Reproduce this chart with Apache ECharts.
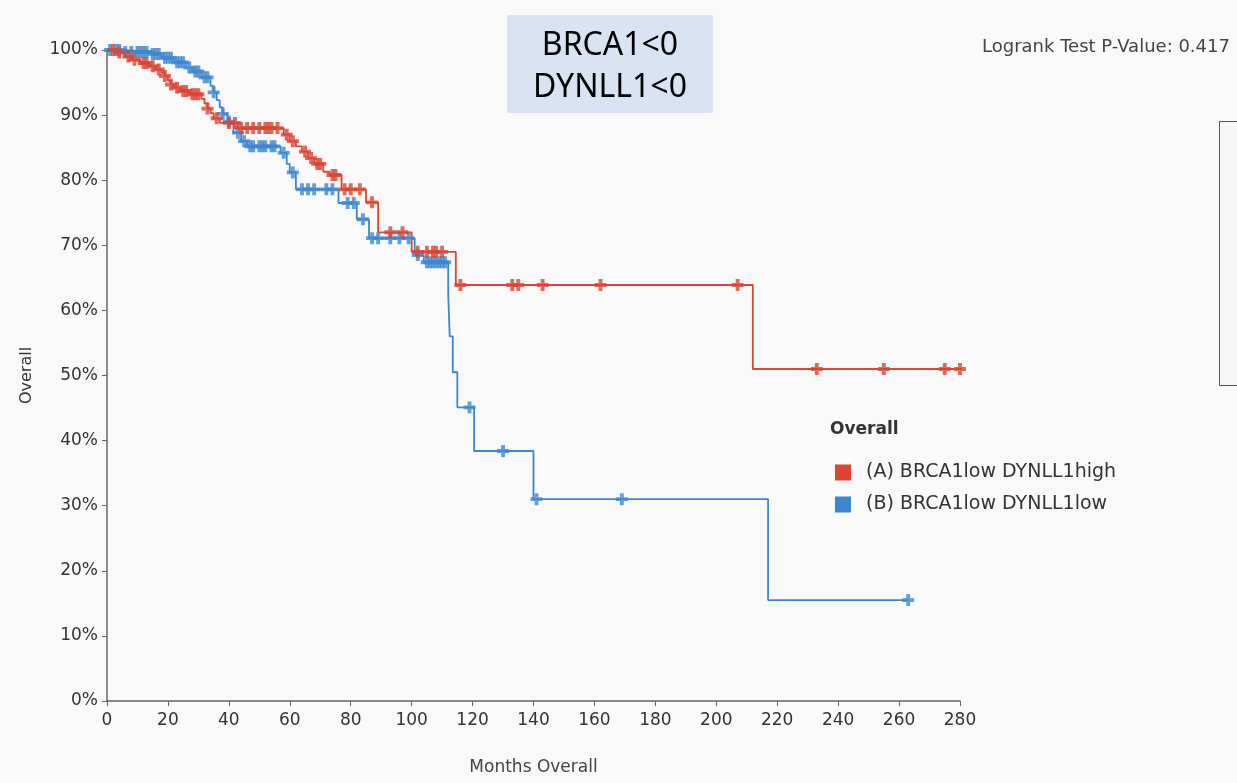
<!DOCTYPE html>
<html>
<head>
<meta charset="utf-8">
<title>KM BRCA1 DYNLL1</title>
<script src="https://cdn.jsdelivr.net/npm/echarts@6/dist/echarts.min.js"></script>
<style>
  html, body { margin: 0; padding: 0; background: #f9f9f9; }
  #chart { width: 1237px; height: 783px; }
</style>
</head>
<body>
<div id="chart"></div>
<script>
// 生存曲线数据 [月份, 生存率%]
var stepA = [[0,100],[3,99.6],[6,99],[8,98.5],[11,98],[14,97.5],[16,97],[18,96.5],[19,96],[20,95.3],[21,94.7],[22,94.2],[24,93.7],[27,93.2],[31,92.5],[32,91.8],[33,91],[34,90.3],[35,89.5],[37,88.8],[43,88],[58,87],[60,86],[62,85.2],[64,84.4],[66,83.4],[68,82.5],[71,81.3],[73,80.8],[77,78.6],[85,76.6],[89,72],[100,69],[114.5,63.9],[212,51],[281,51]];
var stepB = [[0,100],[5,99.7],[14,99.4],[18,98.8],[22,98.1],[26,97.3],[28,96.7],[31,95.8],[34,94.5],[35,93.5],[36,92.3],[37,91.2],[38,90.2],[39.5,89],[41.5,87.3],[44,86],[46,85.2],[57,84.2],[59,82.5],[60,81.2],[62,78.6],[76,76.5],[82,74],[86,71.1],[101,68.5],[104,67.4],[112,62.5],[112.5,56],[113.5,50.5],[115,45.1],[120.5,38.4],[140,31],[217,15.5],[263,15.5]];
// 删失时间
var censorA = [2,4,7,9,12,13,15,17,19,21,23,25,26,28,29,30,33,36,40,42,44,46,48,50,52,53,54,56,59,61,65,67,69,70,74,75,78,80,83,87,93,97,102,105,107,108,110,116,133,135,143,162,207,233,255,275,280];
var censorB = [1,3,4,6,8,10,11,12,13,15,16,17,19,20,21,23,24,25,27,29,30,32,33,35,38,40,43,45,47,48,50,51,52,54,55,58,61,64,66,68,72,74,79,81,84,87,89,93,96,99,102,105,106,107,108,109,110,111,119,130,141,169,263];
var xTicks = [0,20,40,60,80,100,120,140,160,180,200,220,240,260,280];
var yTicks = [0,10,20,30,40,50,60,70,80,90,100];
var seriesNames = ['(A) BRCA1low DYNLL1high', '(B) BRCA1low DYNLL1low'];
var colors = ['#dc4433', '#3d87cf'];

// 在阶梯函数上查删失点的生存率
function censorPoints(steps, times) {
  return times.map(function (t) {
    var v = steps[0][1];
    for (var i = 0; i < steps.length; i++) {
      if (steps[i][0] <= t) v = steps[i][1];
    }
    return [t, v];
  });
}

var cross = 'path://M3.4,0H6.6V3.4H10V6.6H6.6V10H3.4V6.6H0V3.4H3.4Z';
var font = '"DejaVu Sans", sans-serif';

var myChart = echarts.init(document.getElementById('chart'));
var option = {
  backgroundColor: '#f9f9f9',
  animation: false,
  grid: { left: 107, top: 50, width: 853, height: 651, containLabel: false },
  xAxis: {
    type: 'value', min: 0, max: 280, interval: 20,
    name: 'Months Overall', nameLocation: 'middle', nameGap: 58,
    nameTextStyle: { fontFamily: font, fontSize: 17, color: '#444' },
    axisLine: { show: true, lineStyle: { color: '#666', width: 1.5 } },
    axisTick: { show: true, length: 5, lineStyle: { color: '#666' } },
    axisLabel: { fontFamily: font, fontSize: 17, color: '#333', margin: 11,
      formatter: function (v) { return xTicks.indexOf(v) >= 0 ? String(v) : ''; } },
    splitLine: { show: false }
  },
  yAxis: {
    type: 'value', min: 0, max: 100, interval: 10,
    name: 'Overall', nameLocation: 'middle', nameGap: 72, nameRotate: 90,
    nameTextStyle: { fontFamily: font, fontSize: 16, color: '#333' },
    axisLine: { show: true, lineStyle: { color: '#666', width: 1.5 } },
    axisTick: { show: true, length: 5, lineStyle: { color: '#666' } },
    axisLabel: { fontFamily: font, fontSize: 17, color: '#333', margin: 9,
      formatter: function (v) { return yTicks.indexOf(v) >= 0 ? v + '%' : ''; } },
    splitLine: { show: false }
  },
  legend: {
    orient: 'vertical', left: 830, top: 458,
    itemWidth: 16, itemHeight: 16, itemGap: 13,
    icon: 'rect',
    data: seriesNames,
    textStyle: { fontFamily: font, fontSize: 19, color: '#333', padding: [0, 0, 0, 10] }
  },
  graphic: [
    { type: 'rect', left: 507, top: 15, shape: { width: 206, height: 98 },
      style: { fill: '#dae3f3' } },
    { type: 'text', x: 610, y: 46,
      style: { text: 'BRCA1<0', font: '32px "Noto Sans", sans-serif', fill: '#000',
        textAlign: 'center', textVerticalAlign: 'middle' } },
    { type: 'text', x: 610, y: 88,
      style: { text: 'DYNLL1<0', font: '32px "Noto Sans", sans-serif', fill: '#000',
        textAlign: 'center', textVerticalAlign: 'middle' } },
    { type: 'text', x: 982, y: 47,
      style: { text: 'Logrank Test P-Value: 0.417', font: '18px ' + font, fill: '#444',
        textVerticalAlign: 'middle' } },
    { type: 'rect', left: 1219, top: 121, shape: { width: 40, height: 264 },
      style: { fill: '#f7f7f7', stroke: '#555', lineWidth: 1 } },
    { type: 'text', x: 830, y: 430,
      style: { text: 'Overall', font: 'bold 17px ' + font, fill: '#333',
        textVerticalAlign: 'middle' } }
  ],
  series: [
    { name: seriesNames[0], type: 'line', step: 'end', data: stepA, showSymbol: false,
      color: colors[0], lineStyle: { width: 1.8, color: colors[0] }, z: 3 },
    { name: seriesNames[1], type: 'line', step: 'end', data: stepB, showSymbol: false,
      color: colors[1], lineStyle: { width: 1.8, color: colors[1] }, z: 2 },
    { name: seriesNames[0], type: 'scatter', data: censorPoints(stepA, censorA),
      symbol: cross, symbolSize: 12, itemStyle: { color: colors[0] }, z: 4 },
    { name: seriesNames[1], type: 'scatter', data: censorPoints(stepB, censorB),
      symbol: cross, symbolSize: 12, itemStyle: { color: colors[1] }, z: 3 }
  ]
};
myChart.setOption(option);
</script>
</body>
</html>
